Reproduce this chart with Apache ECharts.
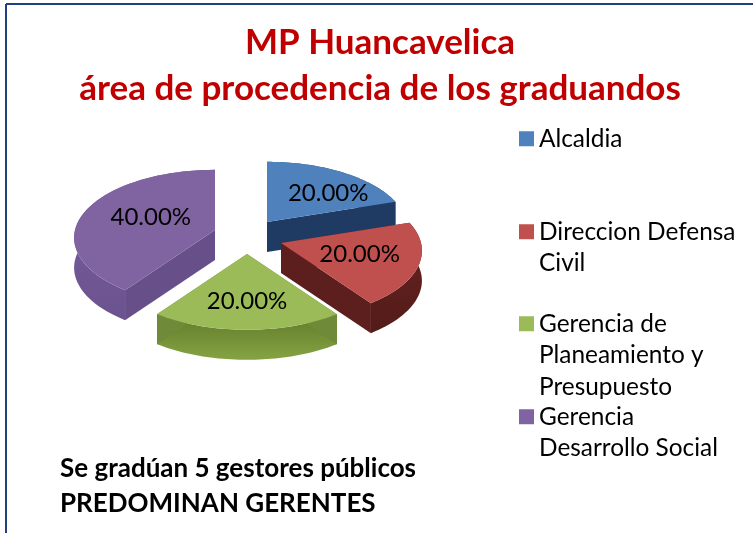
<!DOCTYPE html>
<html>
<head>
<meta charset="utf-8">
<style>
  html, body { margin: 0; padding: 0; background: #fff; }
  #chart { width: 753px; height: 533px; }
</style>
<script src="https://cdn.jsdelivr.net/npm/echarts@6/dist/echarts.min.js"></script>
</head>
<body>
<div id="chart"></div>
<script>
var categories = ["Alcaldia", "Direccion Defensa Civil", "Gerencia de Planeamiento y Presupuesto", "Gerencia Desarrollo Social"];
var graduates = [1, 1, 1, 2];
var legendLines = [["Alcaldia"], ["Direccion Defensa", "Civil"], ["Gerencia de", "Planeamiento y", "Presupuesto"], ["Gerencia", "Desarrollo Social"]];
var legendTops = [123, 216, 308, 401];

var topColors = ["#4f81bd", "#c0504d", "#9bbb59", "#8064a2"];
var cutColors = ["#1f3b63", "#5c1f1d", "#6f8a38", "#67508a"];
var wallColors = [["#2a4a75", "#1f3b63"], ["#6a2422", "#521b19"], ["#5f7b2a", "#86a343"], ["#7a5e9c", "#6b5390"]];

// pie geometry, pixels
var centerX = 247, centerY = 233;
var radiusX = 140, radiusY = 68, depth = 30, perspective = 0.115;
var explode = [[20, -11], [34, 10], [0, 21], [-32, -3]];
var labelAt = [[0.82, 0.58], [0.57, 0.5], [0, 0.62], [0.5, 0.65]];

var total = graduates.reduce(function (a, b) { return a + b; }, 0);

function rimPoint(ox, oy, a, dy) {
  var s = 1 - perspective * Math.cos(a);
  return [ox + radiusX * Math.sin(a) * s, oy - radiusY * Math.cos(a) * s + dy];
}

function renderSlice(i, startValue, api) {
  var value = api.value(0);
  var a0 = startValue / total * Math.PI * 2;
  var a1 = (startValue + value) / total * Math.PI * 2;
  var ox = centerX + explode[i][0], oy = centerY + explode[i][1];
  var top = [[ox, oy]], rim = [], rimLow = [];
  var steps = 48;
  for (var k = 0; k <= steps; k++) {
    var a = a0 + (a1 - a0) * k / steps;
    var p = rimPoint(ox, oy, a, 0);
    top.push(p);
    rim.push(p);
    rimLow.push([p[0], p[1] + depth]);
  }
  var first = rim[0], last = rim[steps];
  function cut(p) {
    return [[ox, oy], p, [p[0], p[1] + depth], [ox, oy + depth]];
  }
  var wallFill = new echarts.graphic.LinearGradient(0, 0, 0, 1, [
    { offset: 0, color: wallColors[i][0] },
    { offset: 1, color: wallColors[i][1] }
  ]);
  var mid = (a0 + a1) / 2;
  var s = 1 - perspective * Math.cos(mid);
  return {
    type: "group",
    children: [
      { type: "polygon", shape: { points: rim.concat(rimLow.slice().reverse()) }, style: { fill: wallFill } },
      { type: "polygon", shape: { points: cut(first) }, style: { fill: cutColors[i] } },
      { type: "polygon", shape: { points: cut(last) }, style: { fill: cutColors[i] } },
      { type: "polygon", shape: { points: top }, style: { fill: topColors[i] } },
      {
        type: "text",
        z2: 10,
        style: {
          x: ox + radiusX * Math.sin(mid) * s * labelAt[i][0],
          y: oy - radiusY * Math.cos(mid) * s * labelAt[i][1],
          text: (value / total * 100).toFixed(2) + "%",
          align: "center",
          verticalAlign: "middle",
          fill: "#000",
          font: "24px Lato"
        }
      }
    ]
  };
}

var seriesList = categories.map(function (name, i) {
  var startValue = graduates.slice(0, i).reduce(function (a, b) { return a + b; }, 0);
  return {
    name: name,
    type: "custom",
    coordinateSystem: "none",
    silent: true,
    itemStyle: { color: topColors[i] },
    data: [[graduates[i]]],
    renderItem: function (params, api) {
      return renderSlice(i, startValue, api);
    }
  };
});

var legends = categories.map(function (name, i) {
  var lines = legendLines[i];
  return {
    data: [name],
    orient: "vertical",
    left: 519,
    top: legendTops[i] - (lines.length - 1) * 31.5,
    icon: "rect",
    itemWidth: 15,
    itemHeight: 15,
    itemGap: 0,
    padding: 0,
    selectedMode: false,
    // leading blank lines keep the marker beside the first line
    formatter: function () {
      return new Array(lines.length).join("\n") + lines.join("\n");
    },
    textStyle: { fontFamily: "Lato", fontSize: 24.4, lineHeight: 31.5, color: "#000" }
  };
});

var myChart = echarts.init(document.getElementById("chart"), null, { renderer: "canvas" });
myChart.setOption({
  animation: false,
  backgroundColor: "#fff",
  title: [
    {
      text: "MP Huancavelica\nárea de procedencia de los graduandos",
      left: 375,
      top: 15,
      textAlign: "center",
      textStyle: { fontFamily: "Lato", fontSize: 35, fontWeight: "bold", lineHeight: 46, color: "#c00000" }
    },
    {
      text: "Se gradúan 5 gestores públicos\nPREDOMINAN GERENTES",
      left: 60,
      top: 451,
      padding: 0,
      textStyle: { fontFamily: "Lato", fontSize: 26, fontWeight: "bold", lineHeight: 35, color: "#000" }
    }
  ],
  legend: legends,
  graphic: [
    { type: "line", shape: { x1: 6, y1: 4, x2: 753, y2: 4 }, style: { stroke: "#1f3f7f", lineWidth: 2 } },
    { type: "line", shape: { x1: 6, y1: 4, x2: 6, y2: 533 }, style: { stroke: "#1f3f7f", lineWidth: 2 } }
  ],
  series: seriesList
});
</script>
</body>
</html>
